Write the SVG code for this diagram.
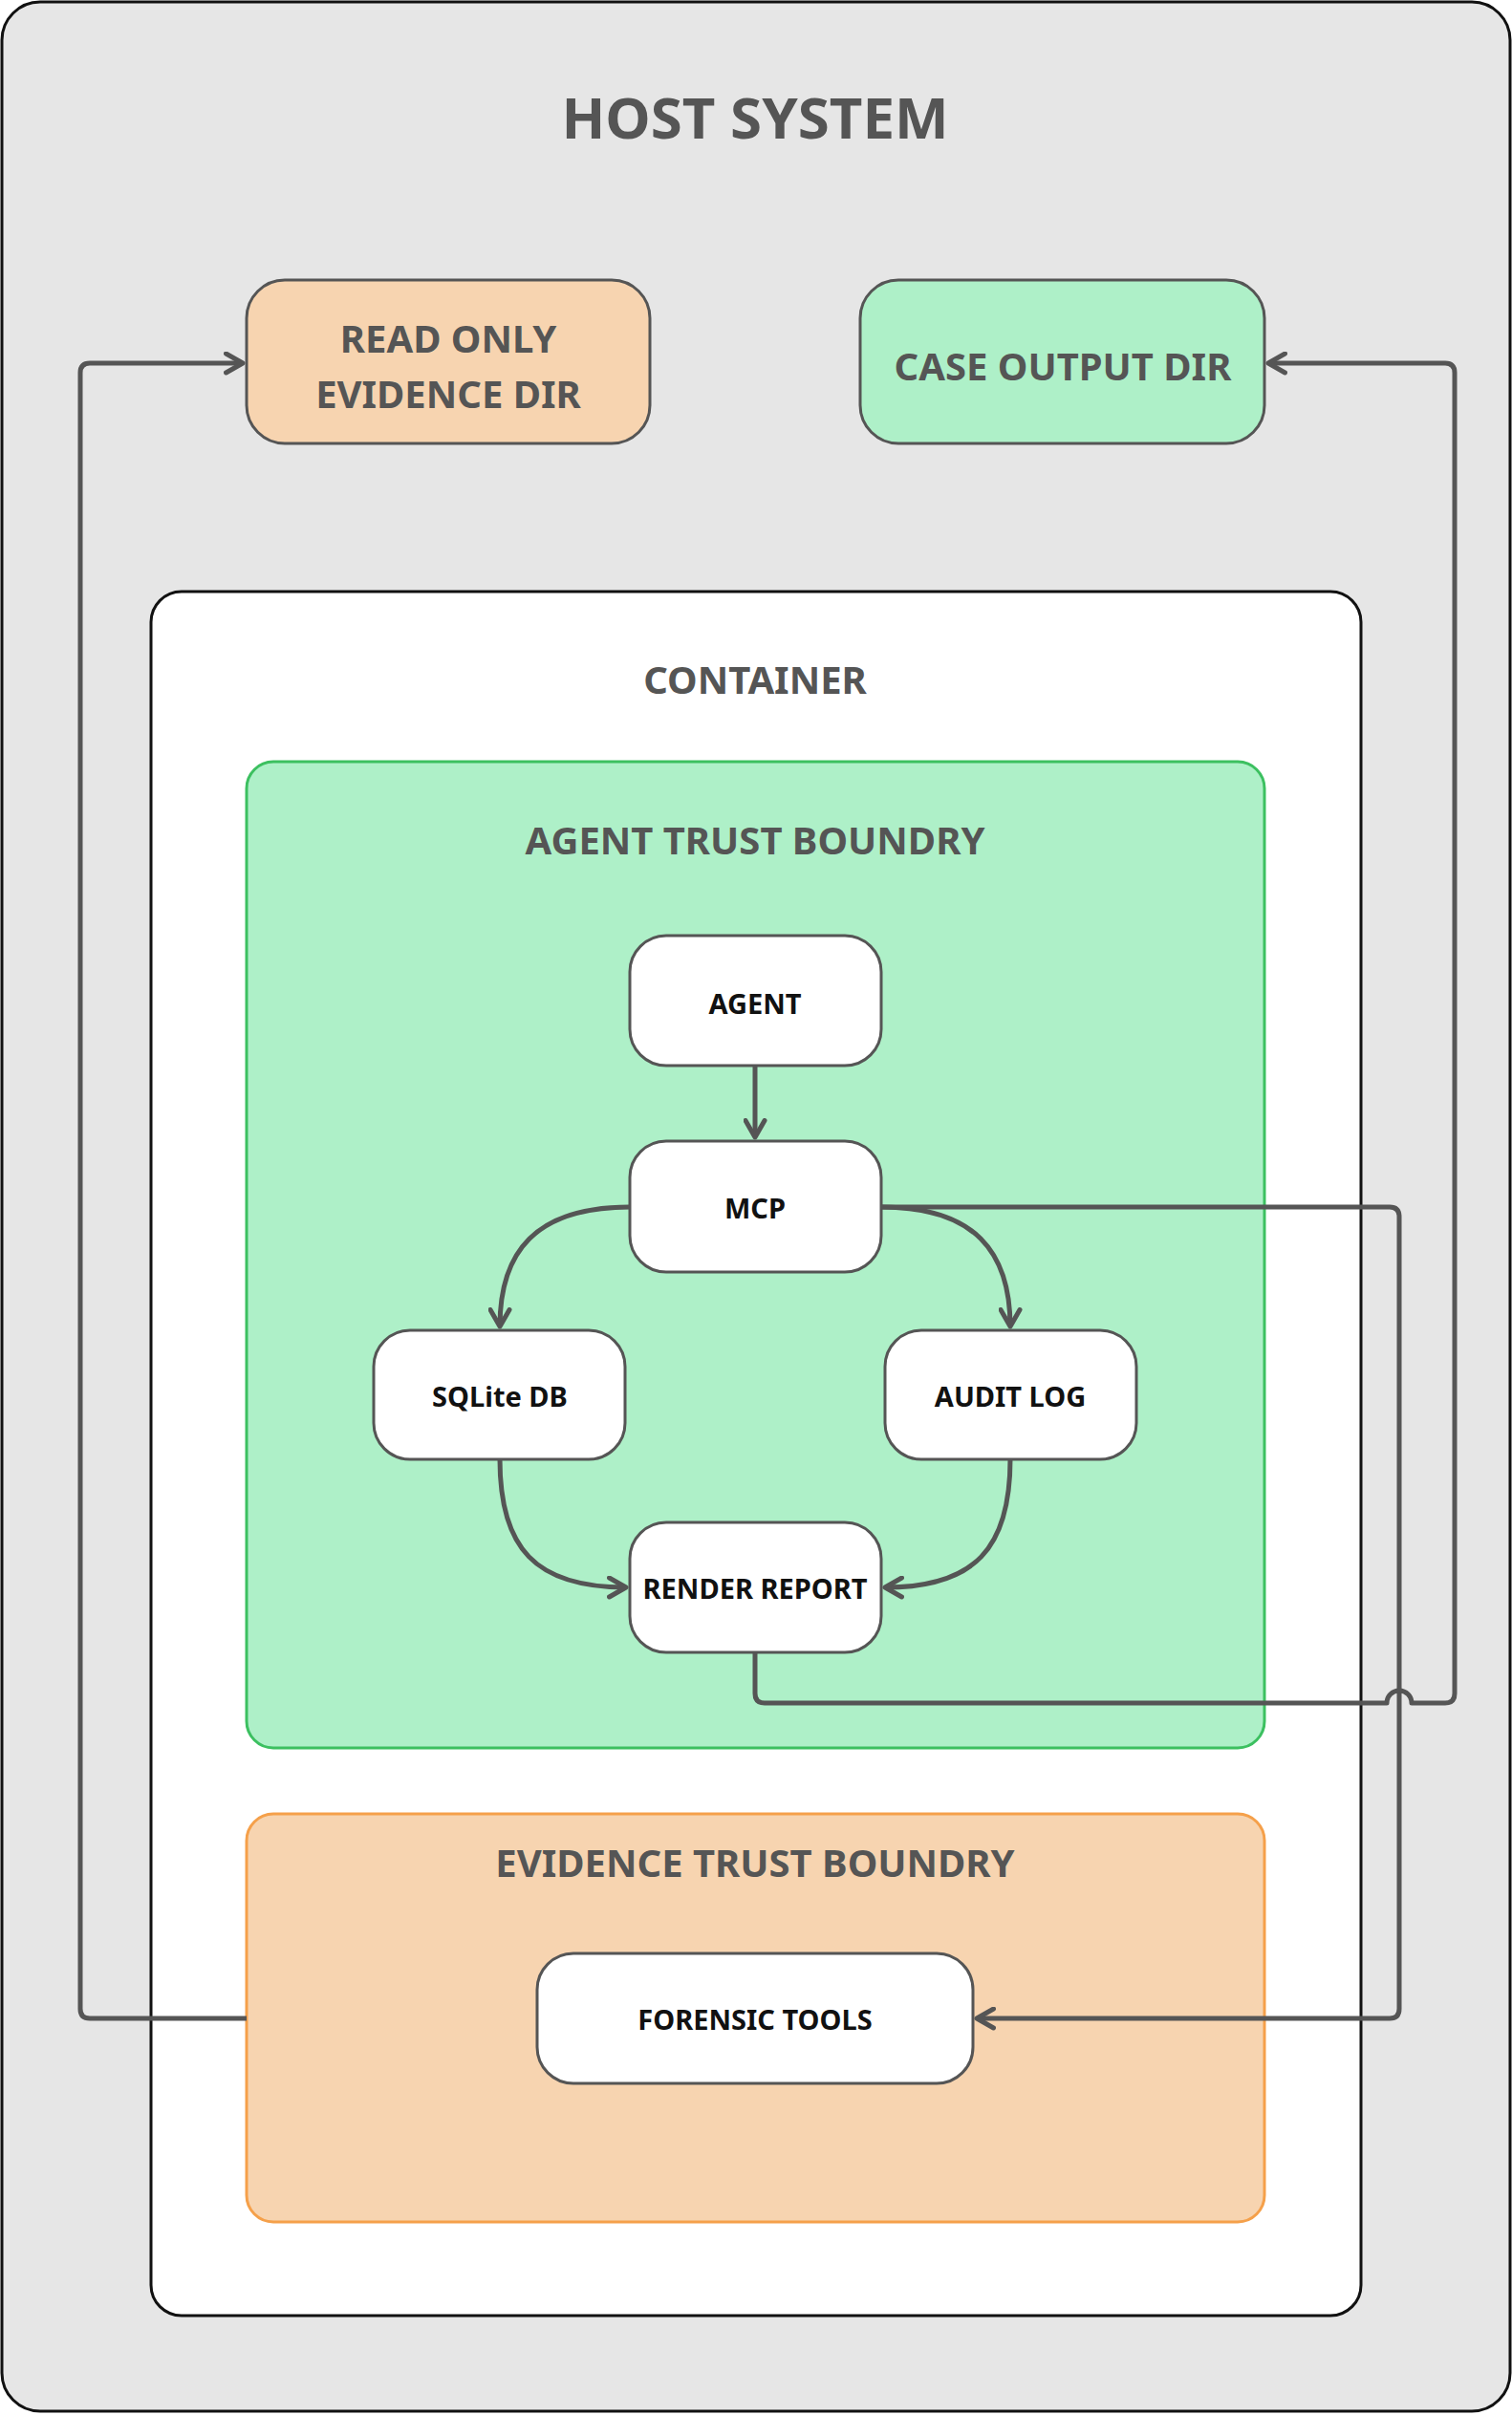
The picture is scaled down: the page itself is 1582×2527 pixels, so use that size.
<svg xmlns="http://www.w3.org/2000/svg" width="1582" height="2527" viewBox="0 0 1582 2527">
<style>
.t{font-family:"Noto Sans","Open Sans","Liberation Sans",sans-serif;font-weight:bold;text-anchor:middle;dominant-baseline:central}
.big{fill:#555;font-size:40px}
.n{fill:#111;font-size:29px}
.node{fill:#fff;stroke:#555;stroke-width:3}
.c{fill:none;stroke:#555;stroke-width:5;stroke-linejoin:round}
</style>
<defs>
<marker id="a" viewBox="0 0 10 10" refX="8" refY="5" markerWidth="5" markerHeight="5" markerUnits="strokeWidth" orient="auto">
<path d="M1,1 L8,5 L1,9" fill="none" stroke="#555" stroke-width="2" stroke-linecap="round" stroke-linejoin="round"/>
</marker>
</defs>
<g id="host"><rect x="2" y="2" width="1578" height="2521" rx="40" fill="#e6e6e6" stroke="#111" stroke-width="3"/>
<text class="t" x="790" y="122" style="fill:#555;font-size:60px">HOST SYSTEM</text></g>
<g id="readonly"><rect x="258" y="293" width="422" height="171" rx="40" fill="#f7d4b0" stroke="#555" stroke-width="3"/>
<text class="t big" x="469" y="353">READ ONLY</text><text class="t big" x="469" y="411">EVIDENCE DIR</text></g>
<g id="caseout"><rect x="900" y="293" width="423" height="171" rx="40" fill="#aef0c8" stroke="#555" stroke-width="3"/>
<text class="t big" x="1112" y="382">CASE OUTPUT DIR</text></g>
<g id="container"><rect x="158" y="619" width="1266" height="1804" rx="32" fill="#fff" stroke="#111" stroke-width="3"/>
<text class="t big" x="790" y="710">CONTAINER</text></g>
<g id="agentTrust"><rect x="258" y="797" width="1065" height="1032" rx="28" fill="#aef0c8" stroke="#3cc060" stroke-width="3"/>
<text class="t big" x="790" y="878">AGENT TRUST BOUNDRY</text></g>
<g id="evidenceTrust"><rect x="258" y="1898" width="1065" height="427" rx="28" fill="#f7d4b0" stroke="#f5a04a" stroke-width="3"/>
<text class="t big" x="790" y="1948">EVIDENCE TRUST BOUNDRY</text></g>
<g id="agent"><rect class="node" x="659" y="979" width="263" height="136" rx="38"/><text class="t n" x="790" y="1049">AGENT</text></g>
<g id="mcp"><rect class="node" x="659" y="1194" width="263" height="137" rx="38"/><text class="t n" x="790" y="1263">MCP</text></g>
<g id="sqlite"><rect class="node" x="391" y="1392" width="263" height="135" rx="38"/><text class="t n" x="523" y="1460">SQLite DB</text></g>
<g id="audit"><rect class="node" x="926" y="1392" width="263" height="135" rx="38"/><text class="t n" x="1057" y="1460">AUDIT LOG</text></g>
<g id="render"><rect class="node" x="659" y="1593" width="263" height="136" rx="38"/><text class="t n" x="790" y="1661">RENDER REPORT</text></g>
<g id="forensic"><rect class="node" x="562" y="2044" width="456" height="136" rx="38"/><text class="t n" x="790" y="2112">FORENSIC TOOLS</text></g>
<g id="connectors">
<path class="c" d="M790,1115 V1190" marker-end="url(#a)"/>
<path class="c" d="M659,1263 C560,1263 523,1310 523,1388" marker-end="url(#a)"/>
<path class="c" d="M922,1263 C1020,1263 1057,1310 1057,1388" marker-end="url(#a)"/>
<path class="c" d="M523,1527 C523,1620 560,1661 655,1661" marker-end="url(#a)"/>
<path class="c" d="M1057,1527 C1057,1620 1020,1661 926,1661" marker-end="url(#a)"/>
<path class="c" d="M922,1263 H1454 Q1464,1263 1464,1273 V2102 Q1464,2112 1454,2112 H1022" marker-end="url(#a)"/>
<path class="c" d="M790,1729 V1772 Q790,1782 800,1782 H1451 A13,13 0 0 1 1477,1782 H1512 Q1522,1782 1522,1772 V390 Q1522,380 1512,380 H1327" marker-end="url(#a)"/>
<path class="c" d="M258,2112 H94 Q84,2112 84,2102 V390 Q84,380 94,380 H254" marker-end="url(#a)"/>
</g>
</svg>
